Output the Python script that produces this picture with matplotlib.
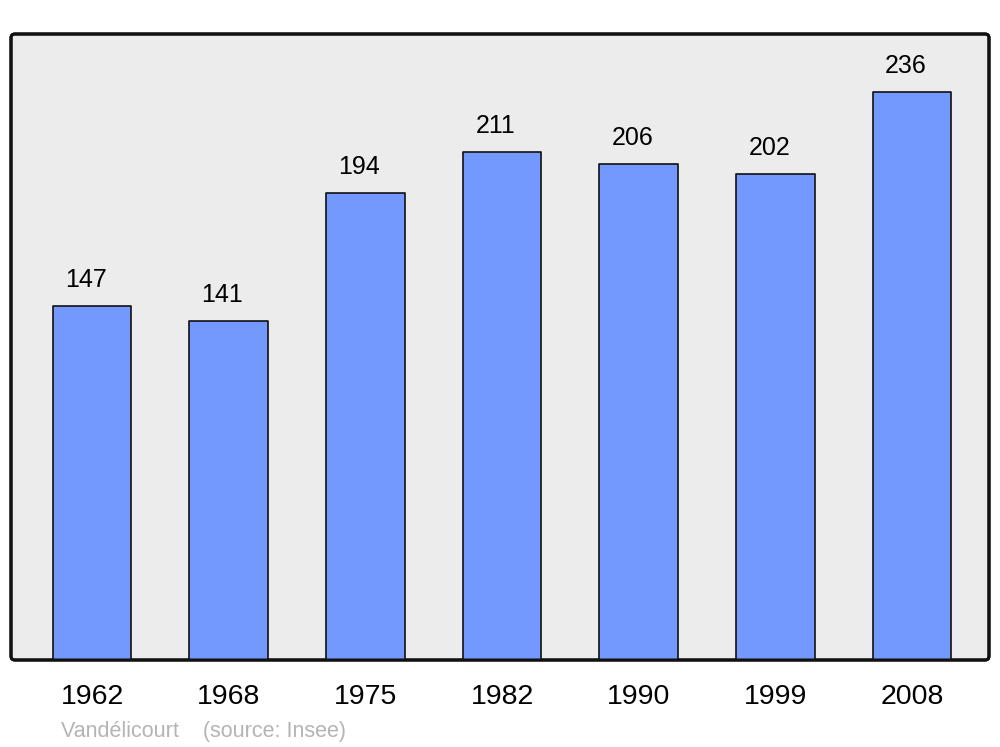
import matplotlib.pyplot as plt
from matplotlib.patches import FancyBboxPatch

years = ["1962", "1968", "1975", "1982", "1990", "1999", "2008"]
population = [147, 141, 194, 211, 206, 202, 236]
source_text = "Vandélicourt    (source: Insee)"

plt.rcParams['font.family'] = ['Liberation Sans', 'DejaVu Sans']

fig = plt.figure(figsize=(10, 7.47), dpi=100)
ax = fig.add_axes([11 / 1000, 87 / 747, 978 / 1000, 626 / 747])
ax.set_facecolor('none')

x = list(range(len(years)))
ax.bar(x, population, width=0.575, color='#7399ff', edgecolor='#111111',
       linewidth=1.2, joinstyle='round', zorder=2)

for xi, v in zip(x, population):
    ax.annotate(str(v), (xi, v), xytext=(-4.5, 13.5), textcoords='offset points',
                ha='center', va='baseline', fontsize=18, color='black')

ax.set_xlim(-0.593, 6.563)
ax.set_ylim(0, 260)
ax.set_yticks([])
ax.set_xticks(x)
ax.set_xticklabels(years, fontsize=20.5)
ax.tick_params(axis='x', length=0, pad=17)
for s in ax.spines.values():
    s.set_visible(False)

# rounded background frame
frame = FancyBboxPatch((0, 0), 1, 1, boxstyle="round,pad=0,rounding_size=0.004",
                       mutation_aspect=978 / 626, transform=ax.transAxes,
                       facecolor='#ececec', edgecolor='#111111', linewidth=2.2,
                       zorder=0, clip_on=False)
ax.add_patch(frame)
frame2 = FancyBboxPatch((0, 0), 1, 1, boxstyle="round,pad=0,rounding_size=0.004",
                        mutation_aspect=978 / 626, transform=ax.transAxes,
                        facecolor='none', edgecolor='#111111', linewidth=2.2,
                        zorder=3, clip_on=False)
ax.add_patch(frame2)

fig.text(61 / 1000, 1 - 737 / 747, source_text, fontsize=15.5, color='#b4b4b4',
         ha='left', va='baseline')

fig.savefig('out.png', dpi=100)
